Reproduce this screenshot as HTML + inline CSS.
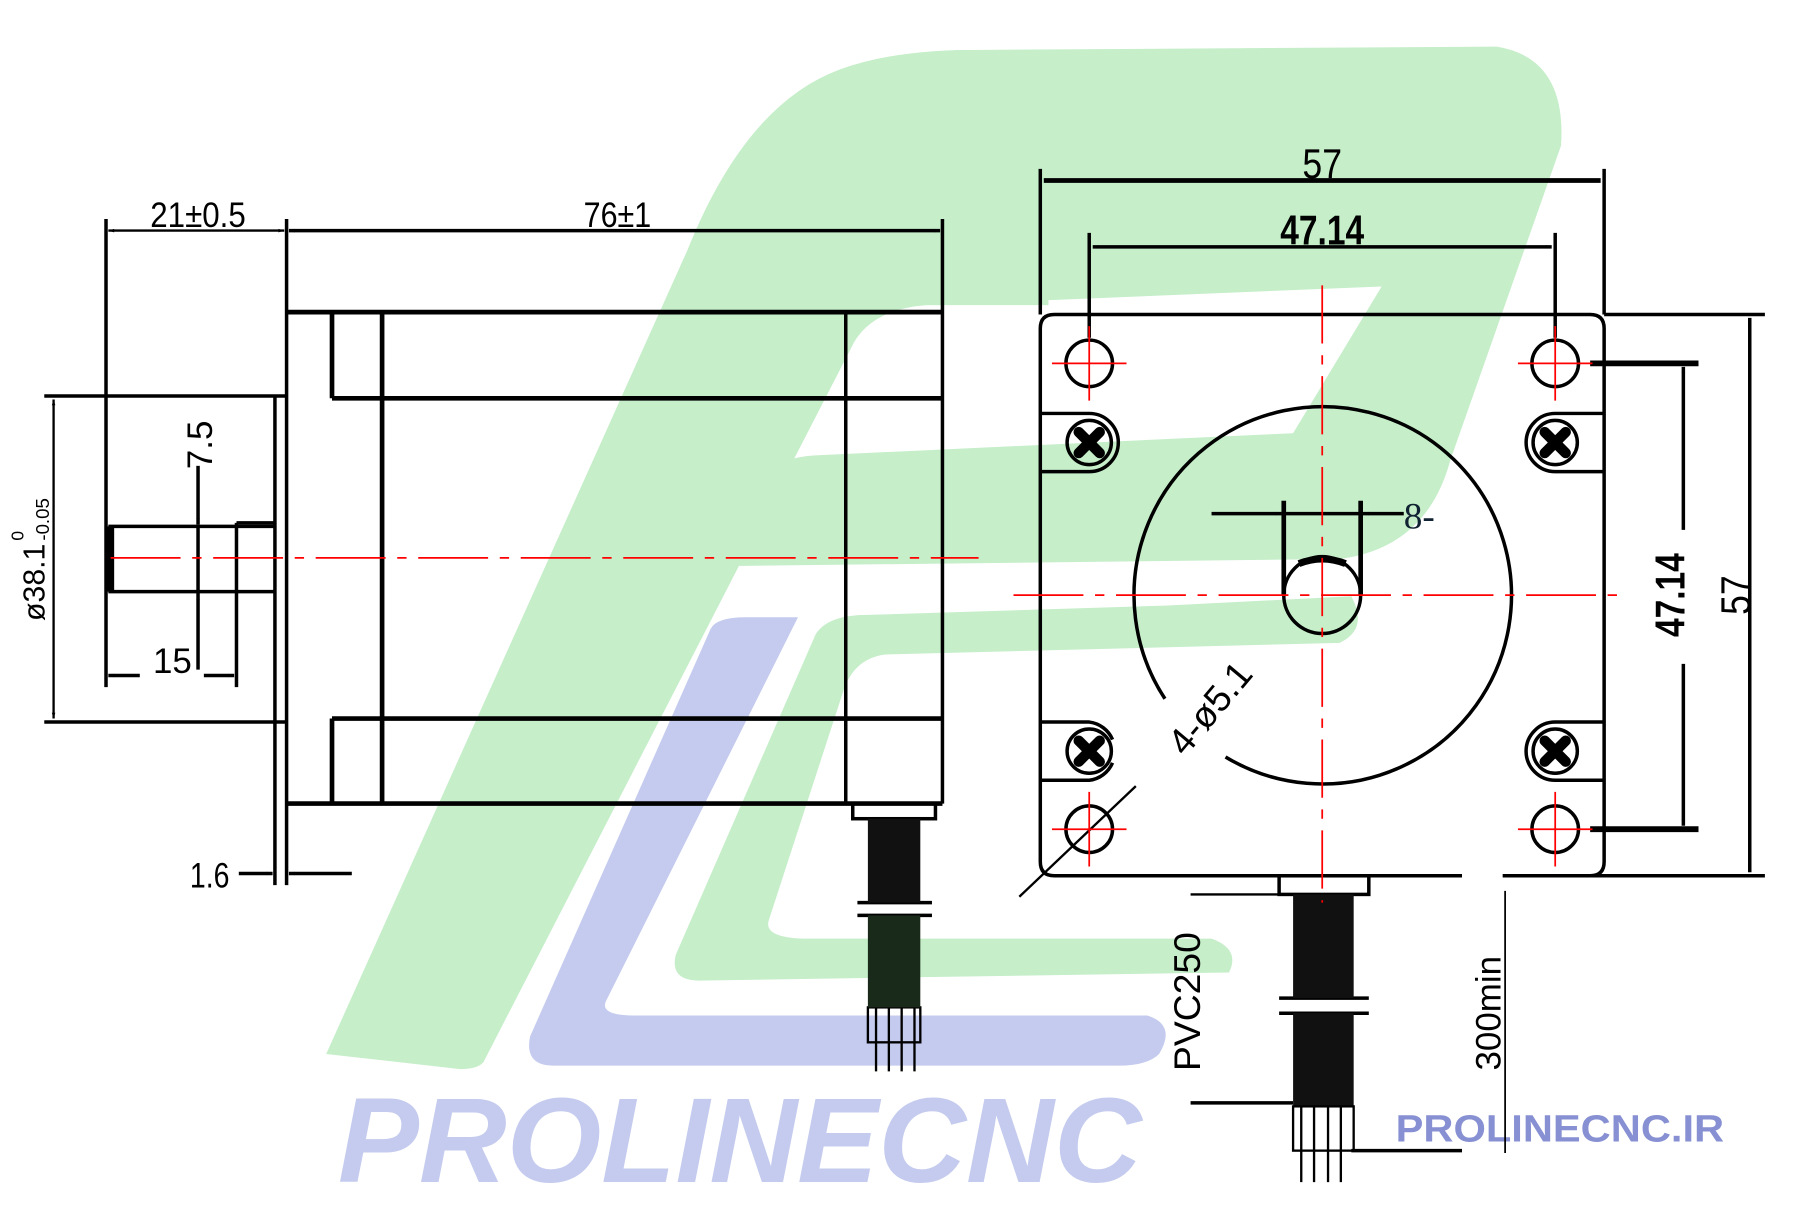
<!DOCTYPE html>
<html><head><meta charset="utf-8"><style>html,body{margin:0;padding:0;background:#fff}svg{display:block}</style></head>
<body>
<svg width="1808" height="1224" viewBox="0 0 1552 1051" preserveAspectRatio="none" xmlns="http://www.w3.org/2000/svg">
<defs>
<marker id="a" viewBox="0 0 10 10" refX="10" refY="5" markerWidth="9" markerHeight="5" orient="auto-start-reverse" markerUnits="userSpaceOnUse"><path d="M0,2 L10,5 L0,8 Z" fill="#000"/></marker>
</defs>
<!-- watermark -->
<g fill="#c5eec9">
<path d="M280,905 L590,215 Q640,90 720,60 Q760,45 820,43 L900,43 L900,262 L795,262 Q745,266 730,300 L415,912 Q410,918 395,918 Z"/>
<path d="M820,43 L1285,40 Q1345,50 1340,125 L1245,395 Q1225,470 1150,480 L628,486 L655,412 Q665,393 700,391 L1110,372 L1186,246 L795,262 Z"/>
<path d="M700,545 Q710,528 745,528 L1000,520 L1160,512 Q1175,540 1150,552 L760,562 Q735,565 725,590 L660,790 Q655,805 690,806 L1040,806 Q1065,815 1055,835 L600,842 Q575,842 580,820 Z"/>
</g>
<g fill="#c4cbee">
<path d="M610,540 Q615,530 640,530 L685,530 L520,860 Q515,872 545,872 L985,872 Q1010,880 995,905 Q985,915 960,915 L475,915 Q450,915 455,890 Z"/>
</g>
<text x="290" y="1015" font-family="Liberation Sans, sans-serif" font-weight="bold" font-style="italic" font-size="104" fill="#c4cbee" textLength="690" lengthAdjust="spacingAndGlyphs">PROLINECNC</text>
<text x="1198" y="980" font-family="Liberation Sans, sans-serif" font-weight="bold" font-size="33" fill="#8790d2" textLength="282" lengthAdjust="spacingAndGlyphs">PROLINECNC.IR</text>

<g stroke="#000" fill="none" stroke-width="2">
<line x1="91" y1="188" x2="91" y2="590" stroke-width="3"/>
<line x1="246" y1="188" x2="246" y2="760" stroke-width="3"/>
<line x1="809" y1="188" x2="809" y2="690" stroke-width="3"/>
<line x1="93" y1="198" x2="244" y2="198" marker-start="url(#a)" marker-end="url(#a)"/>
<line x1="248" y1="198" x2="807" y2="198" stroke-width="3" marker-start="url(#a)" marker-end="url(#a)"/>
<line x1="246" y1="268" x2="809" y2="268" stroke-width="4"/>
<line x1="246" y1="690" x2="809" y2="690" stroke-width="4"/>
<line x1="285" y1="342" x2="809" y2="342" stroke-width="4"/>
<line x1="285" y1="617" x2="809" y2="617" stroke-width="4"/>
<line x1="285" y1="268" x2="285" y2="342" stroke-width="4"/>
<line x1="285" y1="617" x2="285" y2="690" stroke-width="4"/>
<line x1="328" y1="268" x2="328" y2="690" stroke-width="4"/>
<line x1="726" y1="268" x2="726" y2="690" stroke-width="3"/>
<line x1="236" y1="340" x2="236" y2="760" stroke-width="3"/>
<line x1="38" y1="340" x2="246" y2="340" stroke-width="3"/>
<line x1="38" y1="620" x2="246" y2="620" stroke-width="3"/>
<line x1="46" y1="343" x2="46" y2="617" marker-start="url(#a)" marker-end="url(#a)"/>
<line x1="93" y1="452" x2="236" y2="452" stroke-width="3"/>
<line x1="93" y1="508" x2="236" y2="508" stroke-width="3"/>
<line x1="203" y1="449" x2="236" y2="449" stroke-width="3"/>
<line x1="203" y1="449" x2="203" y2="590" stroke-width="3"/>
<line x1="95" y1="452" x2="95" y2="508" stroke-width="6"/>
<line x1="170" y1="400" x2="170" y2="450" stroke-width="3" marker-end="url(#a)"/>
<line x1="170" y1="575" x2="170" y2="510" stroke-width="3" marker-end="url(#a)"/>
<line x1="170" y1="450" x2="170" y2="510" stroke-width="3"/>
<line x1="120" y1="580" x2="93" y2="580" stroke-width="3" marker-end="url(#a)"/>
<line x1="175" y1="580" x2="201" y2="580" stroke-width="3" marker-end="url(#a)"/>
<line x1="205" y1="750" x2="234" y2="750" stroke-width="3" marker-end="url(#a)"/>
<line x1="302" y1="750" x2="248" y2="750" stroke-width="3" marker-end="url(#a)"/>
<rect x="732" y="690" width="71" height="13" stroke-width="3"/>
<rect x="745" y="865" width="45" height="30" stroke-width="2"/>
<line x1="736" y1="775" x2="800" y2="775" stroke-width="3"/>
<line x1="736" y1="786" x2="800" y2="786" stroke-width="3"/>
<line x1="752" y1="865" x2="752" y2="920"/><line x1="763" y1="865" x2="763" y2="920"/><line x1="774" y1="865" x2="774" y2="920"/><line x1="785" y1="865" x2="785" y2="920"/>
</g>
<rect x="745" y="703" width="45" height="72" fill="#111"/>
<rect x="745" y="786" width="45" height="79" fill="#1a2a1a"/>

<g stroke="#000" fill="none" stroke-width="3">
<path d="M1255,752 L905,752 Q893,752 893,740 L893,282 Q893,270 905,270 L1365,270 Q1377,270 1377,282 L1377,740 Q1377,752 1365,752 L1290,752"/>
<line x1="893" y1="145" x2="893" y2="270"/>
<line x1="1377" y1="145" x2="1377" y2="270"/>
<line x1="896" y1="155" x2="1374" y2="155" stroke-width="4" marker-start="url(#a)" marker-end="url(#a)"/>
<line x1="935" y1="200" x2="935" y2="290"/>
<line x1="1335" y1="200" x2="1335" y2="290"/>
<line x1="938" y1="212" x2="1332" y2="212" marker-start="url(#a)" marker-end="url(#a)"/>
<line x1="1377" y1="270" x2="1515" y2="270"/>
<line x1="1290" y1="752" x2="1515" y2="752"/>
<line x1="1502" y1="273" x2="1502" y2="749" marker-start="url(#a)" marker-end="url(#a)"/>
<line x1="1365" y1="312" x2="1458" y2="312" stroke-width="5"/>
<line x1="1365" y1="712" x2="1458" y2="712" stroke-width="5"/>
<line x1="1445" y1="315" x2="1445" y2="455" marker-start="url(#a)"/>
<line x1="1445" y1="570" x2="1445" y2="709" marker-end="url(#a)"/>
<circle cx="935" cy="312" r="20"/><circle cx="1335" cy="312" r="20"/>
<circle cx="935" cy="712" r="20"/><circle cx="1335" cy="712" r="20"/>
<path d="M893,355 L935,355 A25,25 0 0 1 935,405 L893,405"/>
<path d="M1377,355 L1335,355 A25,25 0 0 0 1335,405 L1377,405"/>
<path d="M893,620 L935,620 A25,25 0 0 1 955,635 M955,655 A25,25 0 0 1 935,670 L893,670"/>
<path d="M1377,620 L1335,620 A25,25 0 0 0 1335,670 L1377,670"/>
<circle cx="935" cy="380" r="19"/><circle cx="1335" cy="380" r="19"/>
<circle cx="935" cy="645" r="19"/><circle cx="1335" cy="645" r="19"/>
<path d="M1052,650 A162,162 0 1 0 1000,600"/>
<circle cx="1135" cy="511" r="33"/>
<line x1="1102" y1="430" x2="1102" y2="511" stroke-width="4"/>
<line x1="1168" y1="430" x2="1168" y2="511" stroke-width="4"/>
<line x1="1102" y1="441" x2="1168" y2="441"/>
<line x1="1040" y1="441" x2="1100" y2="441" marker-end="url(#a)"/>
<line x1="1205" y1="441" x2="1170" y2="441" marker-end="url(#a)"/>
<path d="M1115,484 Q1135,476 1155,484" stroke-width="6"/>
<line x1="875" y1="770" x2="975" y2="675" stroke-width="2"/>
<rect x="1098" y="752" width="77" height="16" stroke-width="3"/>
<line x1="1022" y1="768" x2="1098" y2="768" stroke-width="2"/>
<line x1="1022" y1="947" x2="1110" y2="947" stroke-width="3"/>
<line x1="1292" y1="765" x2="1292" y2="990" stroke-width="1.5"/>
<line x1="1160" y1="988" x2="1255" y2="988" stroke-width="3"/>
<line x1="1098" y1="857" x2="1175" y2="857" stroke-width="3"/>
<line x1="1098" y1="870" x2="1175" y2="870" stroke-width="3"/>
<line x1="1117" y1="950" x2="1117" y2="1015" stroke-width="2"/><line x1="1128" y1="950" x2="1128" y2="1015" stroke-width="2"/><line x1="1140" y1="950" x2="1140" y2="1015" stroke-width="2"/><line x1="1151" y1="950" x2="1151" y2="1015" stroke-width="2"/>
</g>
<rect x="1110" y="768" width="52" height="89" fill="#111"/>
<rect x="1110" y="870" width="52" height="80" fill="#111"/>
<g fill="none" stroke="#000" stroke-width="2"><rect x="1110" y="950" width="52" height="38"/></g>
<g stroke="#000" stroke-width="9" stroke-linecap="round">
<path d="M926,371 l18,18 M944,371 l-18,18 M1326,371 l18,18 M1344,371 l-18,18 M926,636 l18,18 M944,636 l-18,18 M1326,636 l18,18 M1344,636 l-18,18"/>
</g>

<g stroke="#f00" stroke-width="1.5" fill="none">
<line x1="95" y1="479" x2="840" y2="479" stroke-dasharray="60,10,8,10"/>
<line x1="870" y1="511" x2="1395" y2="511" stroke-dasharray="60,10,8,10"/>
<line x1="1135" y1="245" x2="1135" y2="775" stroke-dasharray="50,10,8,10"/>
<path d="M903,312 h64 M935,280 v64 M1303,312 h64 M1335,280 v64 M903,712 h64 M935,680 v64 M1303,712 h64 M1335,680 v64"/>
</g>

<g font-family="'Liberation Sans Narrow','Liberation Sans',sans-serif" fill="#000">
<text x="170" y="195" font-size="30" text-anchor="middle" textLength="82" lengthAdjust="spacingAndGlyphs">21±0.5</text>
<text x="530" y="195" font-size="30" text-anchor="middle" textLength="58" lengthAdjust="spacingAndGlyphs">76±1</text>
<text x="1135" y="153" font-size="36" text-anchor="middle" textLength="34" lengthAdjust="spacingAndGlyphs">57</text>
<text x="1135" y="210" font-size="36" font-weight="bold" text-anchor="middle" textLength="72" lengthAdjust="spacingAndGlyphs">47.14</text>
<text x="148" y="578" font-size="30" text-anchor="middle">15</text>
<text x="180" y="762" font-size="30" text-anchor="middle" textLength="34" lengthAdjust="spacingAndGlyphs">1.6</text>
<text transform="translate(182,382) rotate(-90)" font-size="30" text-anchor="middle">7.5</text>
<text transform="translate(38,500) rotate(-90)" font-size="26" text-anchor="middle">ø38.1</text>
<text transform="translate(20,460) rotate(-90)" font-size="15" text-anchor="middle">0</text>
<text transform="translate(42,446) rotate(-90)" font-size="16" text-anchor="middle">-0.05</text>
<text x="1205" y="454" font-size="32" font-family="Liberation Serif, serif" fill="#123">8-</text>
<text transform="translate(1047,615) rotate(-50)" font-size="32" text-anchor="middle">4-ø5.1</text>
<text transform="translate(1446,511) rotate(-90)" font-size="36" font-weight="bold" text-anchor="middle" textLength="72" lengthAdjust="spacingAndGlyphs">47.14</text>
<text transform="translate(1502,511) rotate(-90)" font-size="36" text-anchor="middle" textLength="34" lengthAdjust="spacingAndGlyphs">57</text>
<text transform="translate(1030,860) rotate(-90)" font-size="32" text-anchor="middle">PVC250</text>
<text transform="translate(1288,870) rotate(-90)" font-size="30" text-anchor="middle">300min</text>
</g>
</svg>
</body></html>
